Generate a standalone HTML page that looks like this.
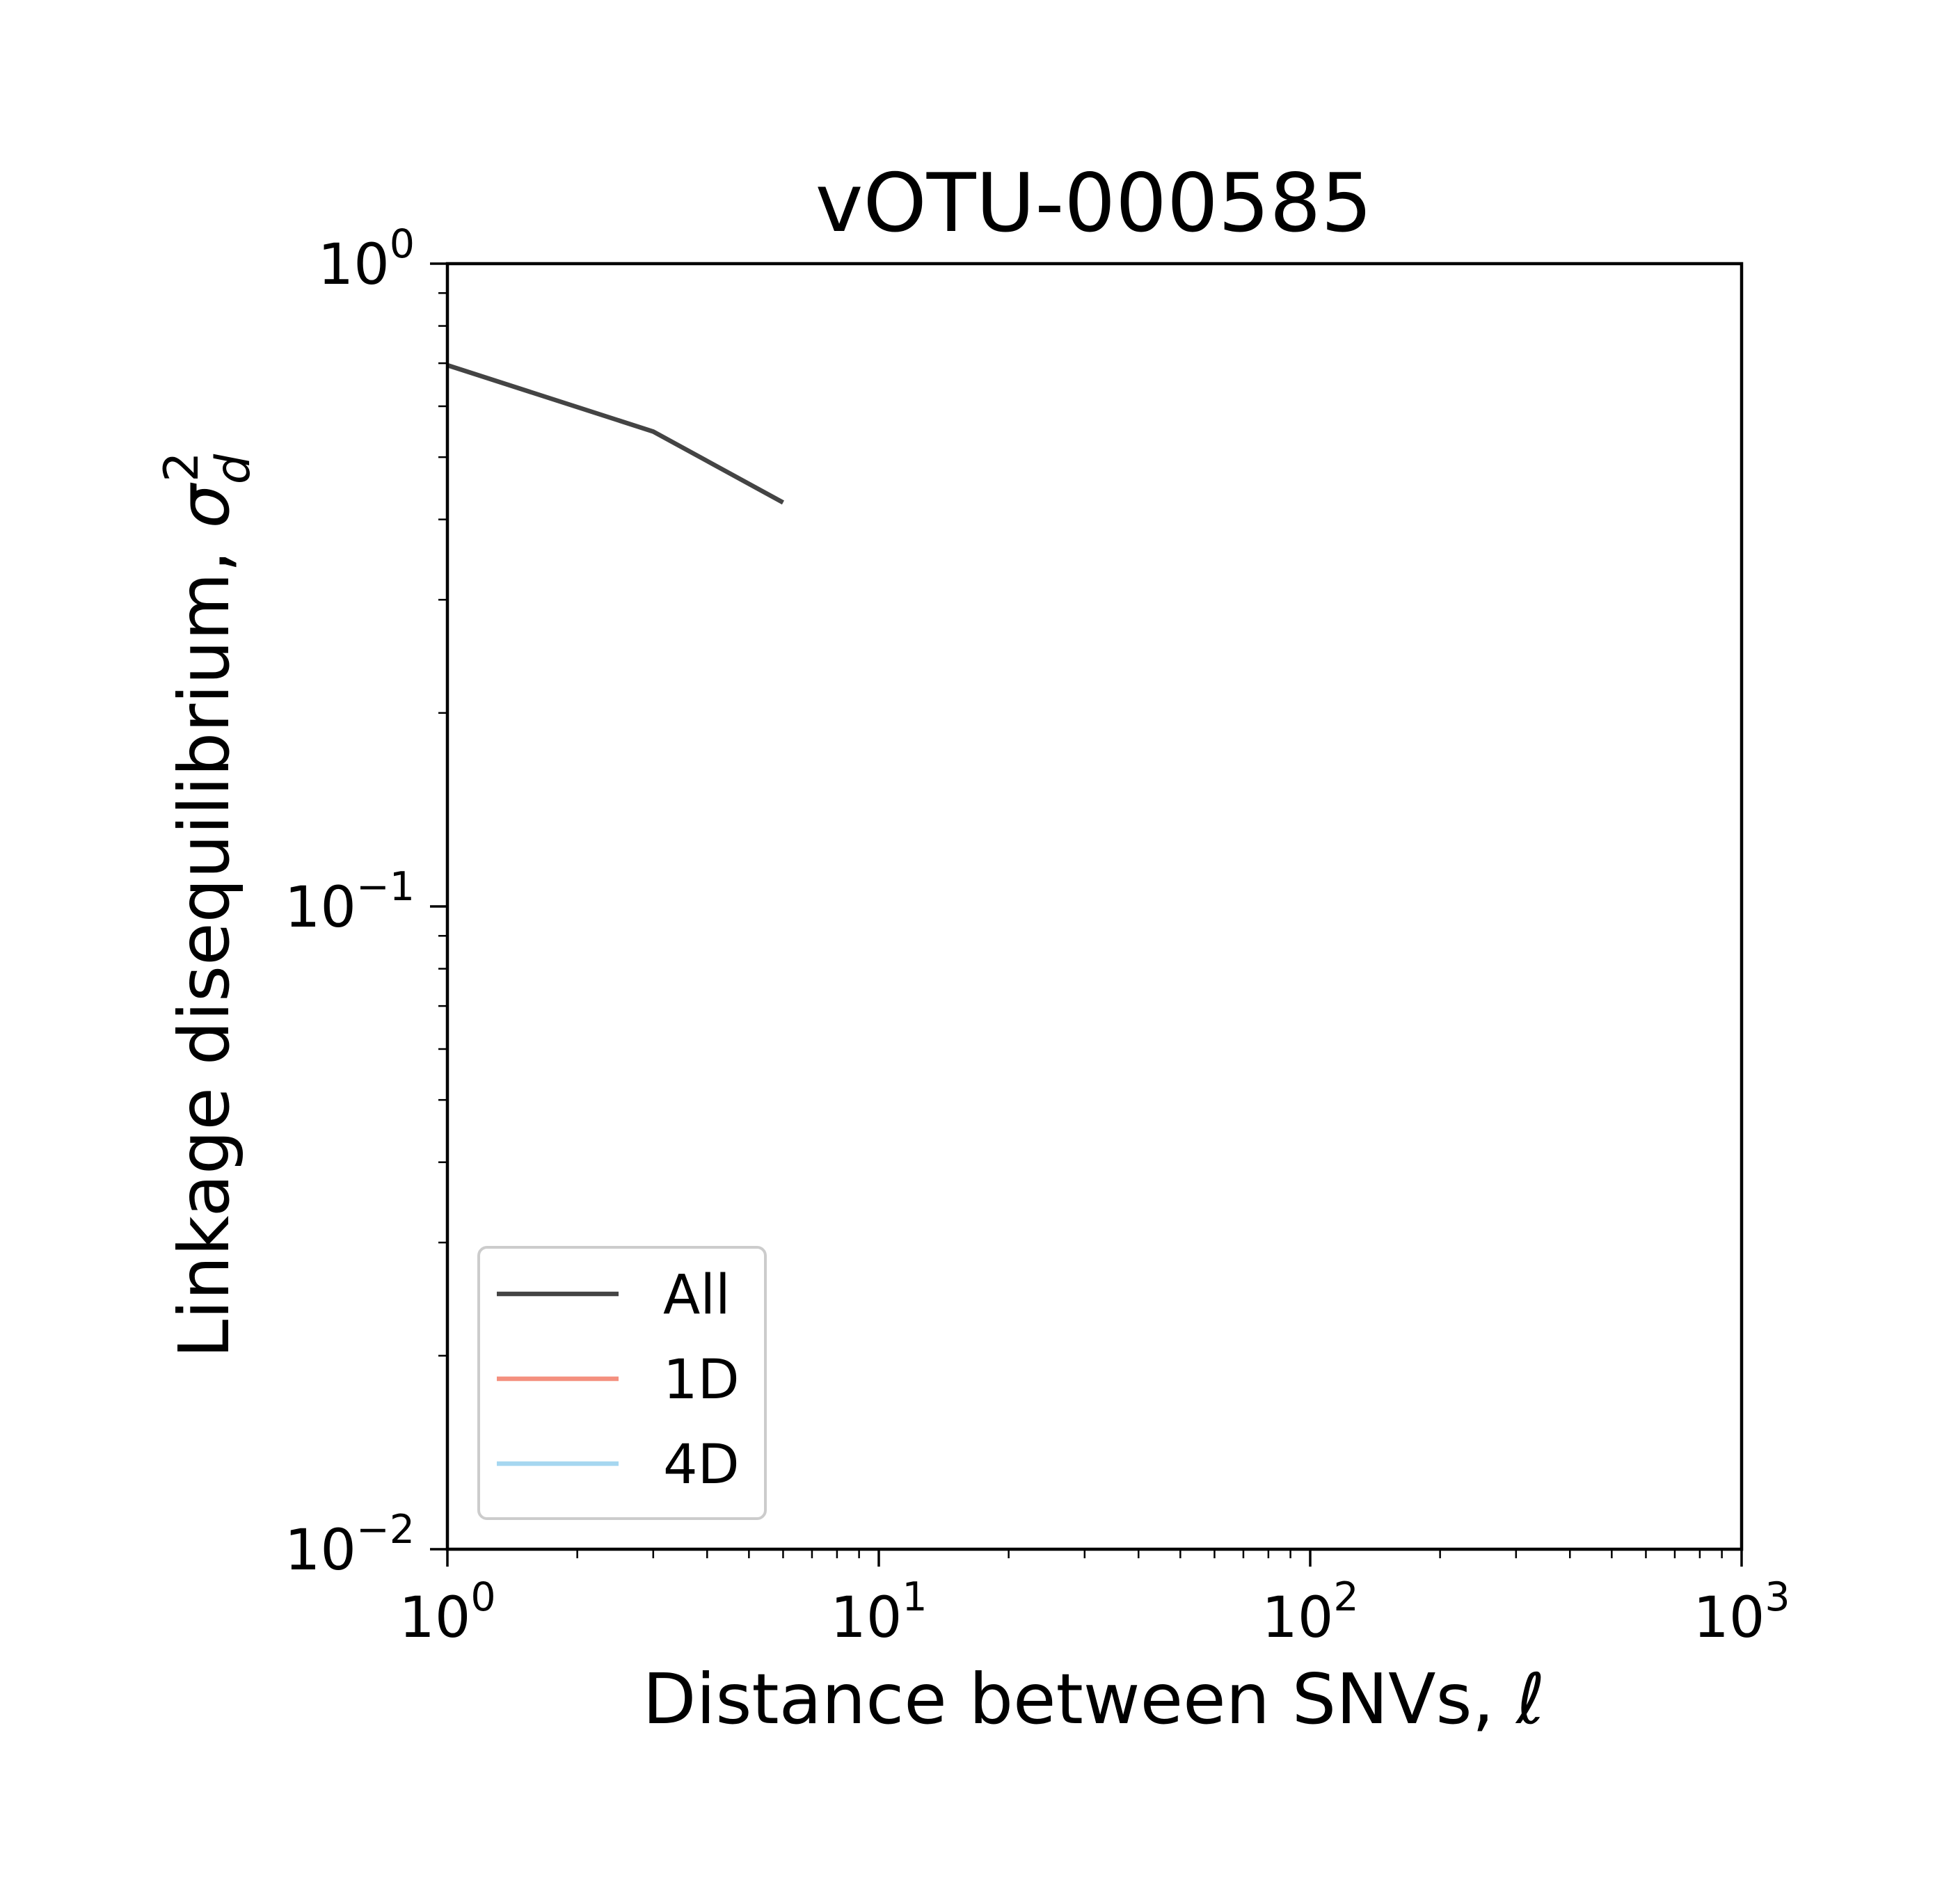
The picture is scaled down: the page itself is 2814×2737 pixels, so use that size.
<!DOCTYPE html>
<html><head><meta charset="utf-8"><style>body{margin:0;background:#fff}svg{display:block}text{font-family:"DejaVu Sans","Liberation Sans",sans-serif}</style></head>
<body>
<svg id="c" width="2814" height="2737" viewBox="0 0 2814 2737">
<g id="g"></g>
</svg>
<script>
const xValues=[1,3,6];
const allValues=[0.695,0.548,0.425];
const xTickExps=[0,1,2,3];
const yTickExps=[-2,-1,0];
const legendLabels=["All","1D","4D"];
const legendColors=["#444444","#f4907f","#a6d7f0"];

const L=643,R=2503,T=379,B=2227;
const NS="http://www.w3.org/2000/svg";
const g=document.getElementById('g');
function xs(v){return L+(Math.log10(v)-0)/3*(R-L);}
function ys(v){return B-(Math.log10(v)+2)/2*(B-T);}
function el(t,a,p){const e=document.createElementNS(NS,t);for(const k in a)e.setAttribute(k,a[k]);(p||g).appendChild(e);return e;}

let t=el('text',{x:1572,y:332,'font-size':116,'text-anchor':'middle'});t.textContent='vOTU-000585';



let d=xValues.map((v,i)=>(i?'L':'M')+xs(v)+' '+ys(allValues[i])).join(' ');
let ln=el('path',{d:d,fill:'none',stroke:'#444444','stroke-width':6.5});



for(let e=0;e<3;e++)for(let m=2;m<10;m++){const x=xs(m*Math.pow(10,e));let tk=el('line',{x1:x,x2:x,y1:B,y2:B+13,stroke:'#000','stroke-width':2.5});}
for(let e=-2;e<0;e++)for(let m=2;m<10;m++){const y=ys(m*Math.pow(10,e));let tk=el('line',{x1:L,x2:L-13,y1:y,y2:y,stroke:'#000','stroke-width':2.5});}
xTickExps.forEach(e=>{const x=xs(Math.pow(10,e));let tk=el('line',{x1:x,x2:x,y1:B,y2:B+25,stroke:'#000','stroke-width':3.5});
 let tx=el('text',{x:x,y:2353,'font-size':81,'text-anchor':'middle'});tx.innerHTML='10<tspan font-size="57" dy="-38">'+e+'</tspan>';});
yTickExps.forEach(e=>{const y=ys(Math.pow(10,e));let tk=el('line',{x1:L,x2:L-25,y1:y,y2:y,stroke:'#000','stroke-width':3.5});
 let tx=el('text',{x:596,y:y+29,'font-size':81,'text-anchor':'end'});tx.innerHTML='10<tspan font-size="57" dy="-38">'+(e<0?'\u2212'+(-e):e)+'</tspan>';});

let fr=el('rect',{x:L,y:T,width:R-L,height:B-T,fill:'none',stroke:'#000','stroke-width':4.5});



let xl=el('text',{x:1572,y:2477,'font-size':100,'text-anchor':'middle'});xl.innerHTML='Distance between SNVs, <tspan font-style="italic">ℓ</tspan>';


let yl=el('text',{x:0,y:0,'font-size':100,'text-anchor':'middle',transform:'translate(328,1301) rotate(-90)'});yl.innerHTML='Linkage disequilibrium, <tspan font-style="italic">σ</tspan><tspan font-size="68" font-style="italic" dy="30">d</tspan><tspan font-size="68" dx="-40" dy="-74">2</tspan>';



let lg=el('rect',{x:688,y:1793,width:412,height:390,rx:12,fill:'#fff','fill-opacity':0.8,stroke:'#cccccc','stroke-width':4});


legendLabels.forEach((lab,i)=>{const y=1860+i*122;
 let l=el('line',{x1:714,x2:889,y1:y,y2:y,stroke:legendColors[i],'stroke-width':6.5});
 let tx=el('text',{x:953,y:y+28,'font-size':78});tx.textContent=lab;});
</script>
</body></html>
